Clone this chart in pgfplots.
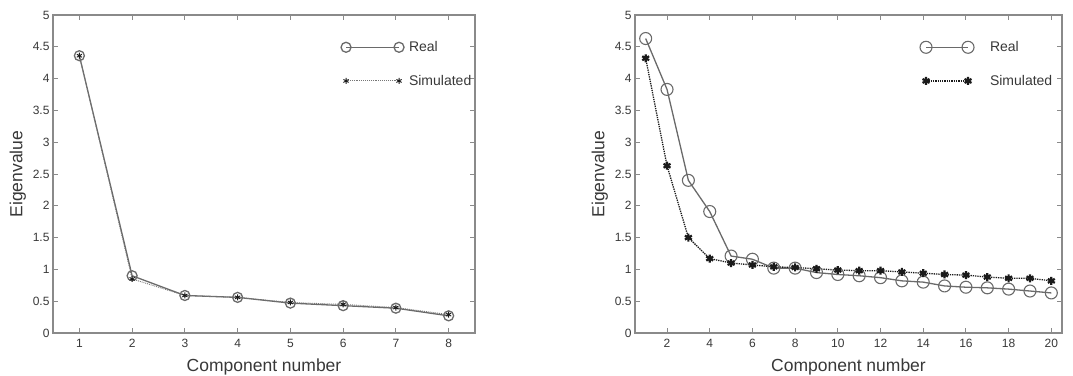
\documentclass[border=0pt]{standalone}
\usepackage{pgfplots}
\pgfplotsset{compat=1.18}
\usepackage{fontspec}
\setmainfont{Liberation Sans}
\definecolor{txt}{HTML}{383838}
\definecolor{framec}{HTML}{8A8A8A}
\definecolor{realc}{HTML}{6A6A6A}
\definecolor{simc}{HTML}{1A1A1A}

\pgfplotstableread{
x real sim
1 4.36 4.36
2 0.90 0.85
3 0.59 0.59
4 0.56 0.56
5 0.47 0.48
6 0.43 0.45
7 0.39 0.40
8 0.27 0.29
}\lefttab

\pgfplotstableread{
x real sim
1 4.63 4.32
2 3.83 2.63
3 2.40 1.50
4 1.91 1.17
5 1.21 1.10
6 1.16 1.07
7 1.02 1.04
8 1.02 1.03
9 0.95 1.01
10 0.92 0.99
11 0.90 0.98
12 0.87 0.98
13 0.82 0.96
14 0.80 0.94
15 0.74 0.92
16 0.72 0.91
17 0.71 0.88
18 0.69 0.86
19 0.66 0.86
20 0.63 0.82
}\righttab

\pgfplotsset{
 scree/.style={
  scale only axis, height=318pt, ymin=0, ymax=5,
  ytick={0,0.5,1,1.5,2,2.5,3,3.5,4,4.5,5},
  yticklabels={0,0.5,1,1.5,2,2.5,3,3.5,4,4.5,5},
  axis line style={framec, line width=1.2pt},
  tick style={framec, line width=1pt},
  major tick length=5pt,
  tick align=inside,
  ticklabel style={font=\fontsize{12}{14}\selectfont, text=txt},
  xticklabel style={yshift=-3pt},
  label style={font=\fontsize{17.5}{20}\selectfont, text=txt},
  xlabel style={yshift=-3.5pt},
  xlabel={Component number}, ylabel={Eigenvalue},
  legend cell align=left,
  legend style={draw=none, fill=none, font=\fontsize{14}{16}\selectfont, text=txt, row sep=18pt},
  /pgf/number format/assume math mode=true,
 }
}

\begin{document}
\begin{tikzpicture}
\begin{axis}[scree, at={(53pt,42pt)}, anchor=south west, width=422pt,
  xmin=0.5, xmax=8.5, xtick={1,...,8},
  legend image code/.code={\draw[mark repeat=1,#1] plot coordinates {(0pt,0pt) (53pt,0pt)};},
  legend style={at={(0.675,0.93)}, anchor=north west, column sep=3pt}]
\addplot[realc, line width=1.3pt, mark=o, mark size=5pt, mark options={solid, line width=1.3pt}] table[x=x, y=real] {\lefttab};
\addplot[simc!60, densely dotted, line width=0.9pt, mark=asterisk, mark size=3pt, mark options={solid, draw=simc, line width=0.9pt}] table[x=x, y=sim] {\lefttab};
\legend{Real, Simulated}
\end{axis}

\begin{axis}[scree, at={(635pt,42pt)}, anchor=south west, width=427pt,
  xmin=0.5, xmax=20.5, xtick={2,4,...,20},
  legend image code/.code={\draw[mark repeat=1,#1] plot coordinates {(0pt,0pt) (42pt,0pt)};},
  legend style={at={(0.66,0.93)}, anchor=north west, column sep=14pt}]
\addplot[realc, line width=1.3pt, mark=o, mark size=6pt, mark options={solid, fill=white, line width=1.1pt}] table[x=x, y=real] {\righttab};
\addplot[simc, densely dotted, line width=1.3pt, mark=asterisk, mark size=4pt, mark options={solid, line width=2.2pt}] table[x=x, y=sim] {\righttab};
\legend{Real, Simulated}
\end{axis}
\pgfresetboundingbox
\path (0,0) rectangle (1073pt,375pt);
\end{tikzpicture}
\end{document}
